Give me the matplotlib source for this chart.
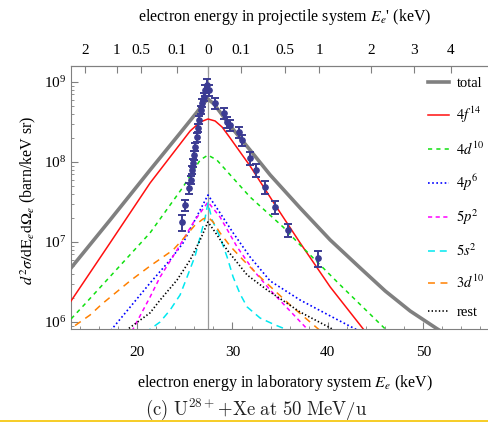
import numpy as np
import matplotlib
matplotlib.use("Agg")
import matplotlib.pyplot as plt
from matplotlib.lines import Line2D
from matplotlib.ticker import MultipleLocator, LogLocator, NullFormatter

plt.rcParams['font.family'] = ['Liberation Serif', 'DejaVu Serif']
plt.rcParams['mathtext.fontset'] = 'stix'
plt.rcParams['lines.scale_dashes'] = False

E_CUSP = 27.43  # keV, electron with projectile velocity (50 MeV/u)

# theory curves (lab energy in keV, cross section in barn/keV sr)
total_E = [12.5, 13.07, 17.16, 21.36, 24.51, 26.29, 27.0, 27.43, 28.07, 28.91, 29.75,
           31.85, 33.95, 37.10, 40.25, 43.40, 46.02, 48.64, 51.47, 53.88]
total_y = [3.87e6, 4.73e6, 1.88e7, 7.94e7, 2.30e8, 4.22e8, 5.46e8, 6.13e8, 5.3e8, 3.9e8, 2.85e8,
           1.41e8, 6.9e7, 2.66e7, 1.06e7, 4.73e6, 2.44e6, 1.37e6, 8.2e5, 5.46e5]

f4_E = [12.8, 13.07, 17.16, 21.36, 23.46, 25.56, 26.61, 27.43, 28.18, 28.91, 29.75,
        31.85, 34.48, 37.10, 40.25, 43.71, 44.97]
f4_y = [1.63e6, 1.83e6, 9.72e6, 5.46e7, 1.155e8, 2.44e8, 3.16e8, 3.45e8, 3.26e8, 2.74e8, 2.0e8,
        8.91e7, 2.90e7, 9.72e6, 2.74e6, 8.18e5, 5.16e5]

d4_E = [12.5, 13.07, 14.54, 21.36, 24.82, 26.61, 27.43, 28.36, 31.85, 35.31, 36.89, 41.30, 46.02, 47.6]
d4_y = [9.17e5, 1.09e6, 1.68e6, 1.30e7, 4.87e7, 1.06e8, 1.22e8, 1.06e8, 3.65e7, 1.54e7, 9.72e6,
        2.90e6, 8.18e5, 5.31e5]

p4_E = [16.11, 17.37, 21.36, 23.46, 24.82, 26.61, 27.43, 28.36, 30.07, 31.85, 33.95, 37.10,
        40.25, 42.87, 44.45]
p4_y = [5.46e5, 8.18e5, 3.07e6, 5.96e6, 9.72e6, 2.51e7, 3.87e7, 2.66e7, 1.30e7, 6.49e6, 3.26e6,
        1.88e6, 1.19e6, 8.18e5, 6.68e5]

p5_E = [18.74, 19.58, 21.36, 22.41, 24.19, 25.87, 27.43, 28.70, 30.49, 32.17, 33.95, 37.83, 38.67]
p5_y = [5.16e5, 8.18e5, 2.05e6, 3.65e6, 7.94e6, 1.73e7, 3.16e7, 2.05e7, 8.66e6, 4.47e6, 2.51e6,
        8.18e5, 6.49e5]

s5_E = [20.83, 22.41, 23.46, 24.51, 25.24, 26.08, 26.61, 27.13, 27.43, 27.87, 28.70, 29.44,
        30.07, 30.80, 31.54, 32.90, 34.48, 36.05]
s5_y = [7.29e5, 1.0e6, 1.41e6, 2.18e6, 3.65e6, 6.68e6, 1.155e7, 2.0e7, 3.07e7, 1.88e7, 1.155e7,
        6.49e6, 3.65e6, 2.24e6, 1.54e6, 1.12e6, 9.17e5, 7.72e5]

d3_E = [12.44, 13.28, 15.06, 16.32, 19.26, 21.36, 23.77, 24.82, 26.08, 26.92, 27.43, 27.97,
        28.70, 29.75, 31.12, 32.90, 36.05, 38.99, 40.25]
d3_y = [7.29e5, 8.66e5, 1.22e6, 1.68e6, 3.26e6, 5.01e6, 7.94e6, 1.09e7, 1.63e7, 1.94e7, 2.05e7,
        1.78e7, 1.30e7, 8.91e6, 5.96e6, 3.65e6, 1.63e6, 8.18e5, 6.31e5]

rest_E = [17.69, 19.05, 21.36, 22.41, 24.19, 25.56, 26.61, 27.43, 28.18, 29.44, 31.54, 33.64,
          37.10, 40.46, 41.72]
rest_y = [5.96e5, 8.18e5, 1.30e6, 1.88e6, 3.35e6, 5.96e6, 1.06e7, 1.78e7, 1.33e7, 7.94e6, 3.87e6,
          2.51e6, 1.33e6, 8.18e5, 6.68e5]

# measured points
data_E = [24.72, 25.03, 25.45, 25.66, 25.77, 25.87, 25.98, 26.08, 26.29, 26.40, 26.50, 26.66,
          26.82, 26.97, 27.13, 27.34, 27.55, 28.18, 29.12, 29.44, 29.75, 30.70, 31.01, 31.85,
          32.48, 33.43, 34.48, 35.84, 38.99]
data_y = [1.78e7, 2.90e7, 4.73e7, 5.96e7, 7.94e7, 9.72e7, 1.22e8, 1.54e8, 2.05e8, 2.66e8,
          3.35e8, 4.47e8, 5.46e8, 6.49e8, 7.94e8, 9.17e8, 7.94e8, 5.46e8, 4.10e8, 3.16e8,
          2.90e8, 2.37e8, 1.88e8, 1.12e8, 7.94e7, 4.87e7, 2.74e7, 1.41e7, 6.31e6]
data_relerr = [0.22, 0.15, 0.15, 0.12, 0.12, 0.12, 0.12, 0.12, 0.12, 0.12, 0.12, 0.12,
               0.12, 0.12, 0.15, 0.19, 0.15, 0.15, 0.15, 0.15, 0.15, 0.15, 0.15, 0.19,
               0.19, 0.19, 0.19, 0.19, 0.22]

# top axis: electron energy in projectile frame
proj_left = [2, 1, 0.5, 0.1]
proj_right = [0.1, 0.5, 1, 2, 3, 4]


def lab_energy(ep, side):
    # relativistic transformation projectile frame -> lab, forward direction
    gp = 1 + 50 / 931.494
    bp = np.sqrt(1 - 1 / gp**2)
    gq = 1 + np.asarray(ep, dtype=float) / 511.0
    bq = side * np.sqrt(1 - 1 / gq**2)
    be = (bq + bp) / (1 + bq * bp)
    return 511.0 * (1 / np.sqrt(1 - be**2) - 1)


fig = plt.figure(figsize=(4.89, 4.23), dpi=100)
ax = fig.add_axes([71 / 489, 1 - 329.3 / 423, 418 / 489, 263.6 / 423])

ax.axvline(E_CUSP, color='#9a9a9a', lw=0.9, zorder=1)

ax.plot(total_E, total_y, color='#808080', lw=2.6, label='total', zorder=2)
ax.plot(f4_E, f4_y, color='#ff1010', lw=1.1, label=r'$4f^{14}$', zorder=3)
ax.plot(d4_E, d4_y, color='#10e010', lw=1.1, dashes=(3, 3), label=r'$4d^{10}$', zorder=3)
ax.plot(p4_E, p4_y, color='#0000ff', lw=1.2, dashes=(1.2, 1.8), label=r'$4p^{6}$', zorder=3)
ax.plot(p5_E, p5_y, color='#ff00ff', lw=1.1, dashes=(3, 2.5), label=r'$5p^{2}$', zorder=3)
ax.plot(s5_E, s5_y, color='#00e8f0', lw=1.1, dashes=(5, 3.5), label=r'$5s^{2}$', zorder=3)
ax.plot(d3_E, d3_y, color='#ff8000', lw=1.1, dashes=(5, 4), label=r'$3d^{10}$', zorder=3)
ax.plot(rest_E, rest_y, color='black', lw=1.2, dashes=(1.0, 1.6), label='rest', zorder=3)

yerr = np.array(data_y) * np.array(data_relerr)
ax.errorbar(data_E, data_y, yerr=yerr, fmt='o', ms=3.8, color='#3b3b92',
            elinewidth=1.4, capsize=3, capthick=1.4, zorder=5)

ax.set_yscale('log')
ax.set_xlim(13.07, 56.9)
ax.set_ylim(8.1e5, 1.6e9)

ax.xaxis.set_major_locator(MultipleLocator(10))
ax.xaxis.set_minor_locator(MultipleLocator(2))
ax.yaxis.set_major_locator(LogLocator(base=10, numticks=10))
ax.yaxis.set_minor_locator(LogLocator(base=10, subs=np.arange(2, 10), numticks=10))
ax.yaxis.set_minor_formatter(NullFormatter())

frame = '#808080'
for s in ['left', 'bottom', 'top']:
    ax.spines[s].set_color(frame)
ax.spines['right'].set_visible(False)
ax.tick_params(which='both', direction='in', color=frame, labelsize=11, top=False, right=False)
ax.tick_params(which='major', length=5)
ax.tick_params(which='minor', length=2.5)
ax.tick_params(axis='x', pad=12)

sec = ax.secondary_xaxis('top')
top_pos = list(lab_energy(proj_left, -1)) + [E_CUSP] + list(lab_energy(proj_right, 1))
top_lab = [str(v) for v in proj_left] + ['0'] + [str(v) for v in proj_right]
sec.set_xticks(top_pos, labels=top_lab)
sec.spines['top'].set_color(frame)
sec.tick_params(direction='in', color=frame, length=5, labelsize=11, pad=6)

ax.legend(loc='upper left', bbox_to_anchor=(428 / 489, 1 - 77 / 423),
          bbox_transform=fig.transFigure, frameon=False, fontsize=10.5,
          handlelength=1.45, handletextpad=0.5, labelspacing=1.02,
          borderpad=0, borderaxespad=0)

fig.text(285 / 489, 1 - 17 / 423, "electron energy in projectile system $E_e$' (keV)",
         ha='center', va='center', fontsize=11.5)
fig.text(285 / 489, 1 - 383 / 423, 'electron energy in laboratory system $E_e$ (keV)',
         ha='center', va='center', fontsize=11.5)
fig.text(28 / 489, 1 - 200 / 423,
         r'$d^2\sigma/\mathrm{dE}_e\mathrm{d}\Omega_e$ (barn/keV sr)',
         ha='center', va='center', rotation=90, fontsize=11.5)
fig.text(256 / 489, 1 - 409 / 423, r'$\mathrm{(c)\ U^{28+}{+}Xe\ at\ 50\ MeV/u}$',
         ha='center', va='center', fontsize=13.5, math_fontfamily='cm', color='#222222')

fig.add_artist(Line2D([0, 1], [0.004, 0.004], transform=fig.transFigure,
                      color='#f5c400', lw=1.2))

fig.savefig('out.png', dpi=100)
